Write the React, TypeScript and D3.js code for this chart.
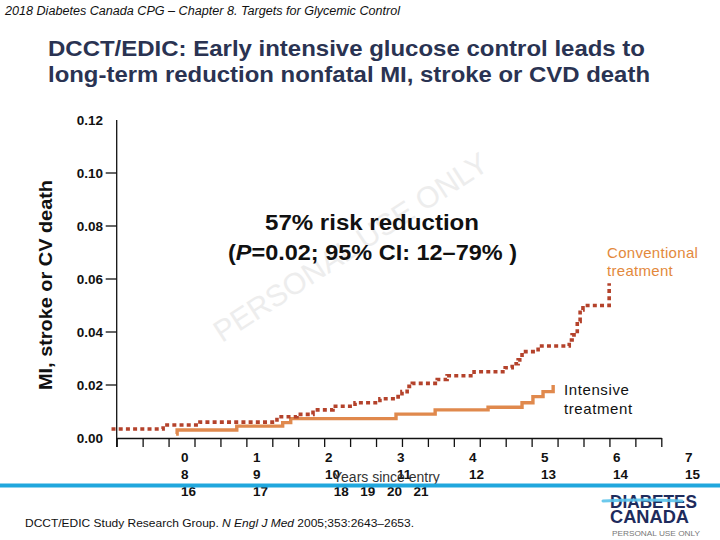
import { useEffect, useRef } from 'react';
import * as d3 from 'd3';

// Kaplan-Meier style cumulative incidence
const conventionalYears = [-0.2, 1.79, 3.21, 6.18, 6.95, 7.57, 8.34, 9.19, 10.15, 10.85, 11.0, 11.2, 11.4, 12.36, 12.74, 13.78, 14.98, 15.25, 15.48, 15.63, 16.25, 17.45, 17.56, 17.76, 17.87, 17.98, 18.99];
const conventionalRisk = [0.0034, 0.0049, 0.006, 0.008, 0.0089, 0.0106, 0.012, 0.0133, 0.0148, 0.0156, 0.0175, 0.0195, 0.0206, 0.0221, 0.0235, 0.025, 0.0265, 0.028, 0.0295, 0.0326, 0.0347, 0.037, 0.0389, 0.044, 0.0483, 0.05, 0.0584];

const intensiveYears = [2.29, 2.33, 4.63, 6.4, 6.71, 10.77, 12.28, 14.32, 15.63, 16.05, 16.44, 16.83];
const intensiveRisk = [0.0015, 0.003, 0.0045, 0.0058, 0.0073, 0.009, 0.0106, 0.0116, 0.0133, 0.0156, 0.0175, 0.02];

const yTicks = [0, 0.02, 0.04, 0.06, 0.08, 0.1, 0.12];
const yTickMarks = [0.02, 0.04, 0.06, 0.08, 0.1];

// the three overlapping rows of year labels under the axis
const labelRow1 = ['0', '1', '2', '3', '4', '5', '6', '7'];
const labelRow2 = ['8', '9', '10', '11', '12', '13', '14', '15'];
const labelRow3 = ['16', '17', '18', '19', '20', '21'];
const labelRow3Slots = [0, 1, 2.12, 2.49, 2.86, 3.23];

const ARIAL = '"Liberation Sans", Arial, sans-serif';

const App = () => {
  const chartRef = useRef<SVGSVGElement | null>(null);

  useEffect(() => {
    if (!chartRef.current) return;
    const svg = d3.select(chartRef.current);
    svg.selectAll('*').remove();

    const width = 720;
    const height = 540;
    svg.attr('width', width).attr('height', height);

    svg.append('rect').attr('width', width).attr('height', height).attr('fill', '#fff');

    // header
    svg.append('text')
      .attr('x', 5).attr('y', 15)
      .attr('textLength', 395).attr('lengthAdjust', 'spacingAndGlyphs')
      .style('font-family', ARIAL).style('font-style', 'italic').style('font-size', '12.5px')
      .attr('fill', '#111')
      .text('2018 Diabetes Canada CPG – Chapter 8.  Targets for Glycemic Control');

    const titleLines = [
      'DCCT/EDIC: Early intensive glucose control leads to',
      'long-term reduction nonfatal MI, stroke or CVD death',
    ];
    const titleWidths = [597, 602];
    titleLines.forEach((line, i) => {
      svg.append('text')
        .attr('x', 48).attr('y', 56 + i * 26)
        .attr('textLength', titleWidths[i]).attr('lengthAdjust', 'spacingAndGlyphs')
        .style('font-family', ARIAL).style('font-weight', 'bold').style('font-size', '22px')
        .attr('fill', '#2a3352')
        .text(line);
    });

    // faint watermark
    svg.append('text')
      .attr('transform', 'translate(222,343) rotate(-33)')
      .style('font-family', ARIAL).style('font-size', '30px')
      .attr('fill', '#ededed')
      .text('PERSONAL USE ONLY');

    const x = d3.scaleLinear().domain([0, 21]).range([116.7, 661.3]);
    const y = d3.scaleLinear().domain([0, 0.12]).range([438, 120]);

    // y axis
    svg.append('line')
      .attr('x1', x(0)).attr('x2', x(0))
      .attr('y1', y(0.12)).attr('y2', y(0) + 9)
      .attr('stroke', '#111').attr('stroke-width', 1.3);

    svg.append('g').selectAll('line')
      .data(yTickMarks)
      .enter().append('line')
      .attr('x1', x(0) - 11).attr('x2', x(0))
      .attr('y1', d => y(d)).attr('y2', d => y(d))
      .attr('stroke', '#111').attr('stroke-width', 1.3);

    svg.append('g').selectAll('text')
      .data(yTicks)
      .enter().append('text')
      .attr('x', 103).attr('y', d => y(d))
      .attr('dy', '0.36em')
      .attr('text-anchor', 'end')
      .style('font-family', ARIAL).style('font-weight', 'bold').style('font-size', '13.5px')
      .attr('fill', '#111')
      .text(d => d.toFixed(2));

    svg.append('text')
      .attr('transform', `translate(52,${(180 + 390) / 2}) rotate(-90)`)
      .attr('text-anchor', 'middle')
      .attr('textLength', 210).attr('lengthAdjust', 'spacingAndGlyphs')
      .style('font-family', ARIAL).style('font-weight', 'bold').style('font-size', '19px')
      .attr('fill', '#111')
      .text('MI, stroke or CV death');

    // x axis
    const xAxis = svg.append('g')
      .attr('transform', `translate(0,${y(0)})`)
      .call(d3.axisBottom(x).ticks(21).tickSize(9).tickSizeOuter(0).tickFormat(() => ''));
    xAxis.select('.domain').attr('stroke', '#111').attr('stroke-width', 1.3);
    xAxis.selectAll('.tick line').attr('stroke', '#111').attr('stroke-width', 1.3);

    const slot = d3.scaleLinear().domain([0, 7]).range([181, 685]);
    const labelStyle = (sel: d3.Selection<SVGTextElement, string, SVGGElement, unknown>) =>
      sel.style('font-family', ARIAL).style('font-weight', 'bold').style('font-size', '13.5px').attr('fill', '#111');

    svg.append('g').selectAll('text')
      .data(labelRow1).enter().append('text')
      .attr('x', (_, i) => slot(i)).attr('y', 462)
      .call(labelStyle)
      .text(d => d);

    svg.append('g').selectAll('text')
      .data(labelRow2).enter().append('text')
      .attr('x', (_, i) => slot(i)).attr('y', 479)
      .call(labelStyle)
      .text(d => d);

    svg.append('g').selectAll('text')
      .data(labelRow3).enter().append('text')
      .attr('x', (_, i) => slot(labelRow3Slots[i])).attr('y', 496)
      .call(labelStyle)
      .text(d => d);

    svg.append('text')
      .attr('x', 333).attr('y', 482)
      .style('font-family', ARIAL).style('font-size', '14px')
      .attr('fill', '#333')
      .text('Years since entry');

    // curves
    const line = d3.line<[number, number]>()
      .x(d => x(d[0]))
      .y(d => y(d[1]))
      .curve(d3.curveStepAfter);

    const intensive = intensiveYears.map((t, i) => [t, intensiveRisk[i]] as [number, number]);
    const conventional = conventionalYears.map((t, i) => [t, conventionalRisk[i]] as [number, number]);

    svg.append('path')
      .attr('d', line(intensive))
      .attr('fill', 'none')
      .attr('stroke', '#e0894d')
      .attr('stroke-width', 3.4);

    svg.append('path')
      .attr('d', line(conventional))
      .attr('fill', 'none')
      .attr('stroke', '#b4422b')
      .attr('stroke-width', 3.6)
      .attr('stroke-dasharray', '4 3.2');

    // curve labels
    ['Conventional', 'treatment'].forEach((w, i) => {
      svg.append('text')
        .attr('x', 607).attr('y', 258 + i * 18)
        .style('font-family', ARIAL).style('font-size', '15px').style('letter-spacing', '0.3px')
        .attr('fill', '#e3893c')
        .text(w);
    });
    ['Intensive', 'treatment'].forEach((w, i) => {
      svg.append('text')
        .attr('x', 564).attr('y', 395 + i * 19)
        .style('font-family', ARIAL).style('font-size', '15px').style('letter-spacing', '0.6px')
        .attr('fill', '#111')
        .text(w);
    });

    // annotation
    svg.append('text')
      .attr('x', 265).attr('y', 230)
      .attr('textLength', 214).attr('lengthAdjust', 'spacingAndGlyphs')
      .style('font-family', ARIAL).style('font-weight', 'bold').style('font-size', '22px')
      .attr('fill', '#111')
      .text('57% risk reduction');

    const ci = svg.append('text')
      .attr('x', 228).attr('y', 260)
      .attr('textLength', 289).attr('lengthAdjust', 'spacingAndGlyphs')
      .style('font-family', ARIAL).style('font-weight', 'bold').style('font-size', '22px')
      .attr('fill', '#111');
    ci.append('tspan').text('(');
    ci.append('tspan').style('font-style', 'italic').text('P');
    ci.append('tspan').text('=0.02; 95% CI: 12–79% )');

    // blue rule
    svg.append('rect')
      .attr('x', 0).attr('y', 483.5).attr('width', width).attr('height', 4)
      .attr('fill', '#20a7dd');

    // citation
    const cite = svg.append('text')
      .attr('x', 25).attr('y', 527)
      .attr('textLength', 389).attr('lengthAdjust', 'spacingAndGlyphs')
      .style('font-family', ARIAL).style('font-size', '11.5px')
      .attr('fill', '#111');
    cite.append('tspan').text('DCCT/EDIC Study Research Group. ');
    cite.append('tspan').style('font-style', 'italic').text('N Engl J Med');
    cite.append('tspan').text(' 2005;353:2643–2653.');

    // logo
    svg.append('text')
      .attr('x', 610).attr('y', 508)
      .attr('textLength', 87).attr('lengthAdjust', 'spacingAndGlyphs')
      .style('font-family', ARIAL).style('font-weight', 'bold').style('font-size', '18px')
      .attr('fill', '#1e2b5c')
      .text('DIABETES');
    svg.append('path')
      .attr('d', 'M603,501 Q640,499 682,501')
      .attr('fill', 'none')
      .attr('stroke', '#5cc3ea')
      .attr('stroke-width', 3)
      .attr('stroke-linecap', 'round')
      .attr('opacity', 0.9);
    svg.append('text')
      .attr('x', 610).attr('y', 523)
      .attr('textLength', 79).attr('lengthAdjust', 'spacingAndGlyphs')
      .style('font-family', ARIAL).style('font-weight', 'bold').style('font-size', '18px')
      .attr('fill', '#1e2b5c')
      .text('CANADA');
    svg.append('text')
      .attr('x', 612).attr('y', 536)
      .attr('textLength', 88).attr('lengthAdjust', 'spacingAndGlyphs')
      .style('font-family', ARIAL).style('font-size', '8px')
      .attr('fill', '#777')
      .text('PERSONAL USE ONLY');
  }, []);

  return (
    <div>
      <svg ref={chartRef} style={{ position: 'absolute', left: 0, top: 0 }}></svg>
    </div>
  );
};

export default App;
